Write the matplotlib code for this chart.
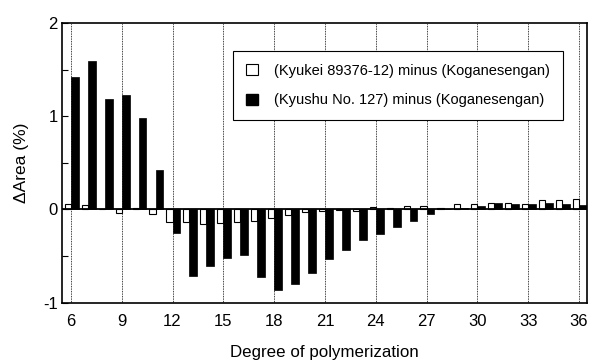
import numpy as np
import matplotlib
matplotlib.use('Agg')
import matplotlib.pyplot as plt
from matplotlib.patches import Patch

plt.rcParams['font.family'] = ['Liberation Sans', 'DejaVu Sans']
plt.rcParams['axes.unicode_minus'] = False

# 数据：聚合度 6..36
dp = np.arange(6, 37)
kyukei = [0.06, 0.05, 0.005, -0.035, 0.02, -0.05, -0.14, -0.14, -0.16, -0.15,
          -0.14, -0.12, -0.09, -0.065, -0.03, -0.02, -0.01, -0.02, 0.03, 0.02,
          0.035, 0.035, 0.02, 0.06, 0.06, 0.065, 0.065, 0.055, 0.10, 0.10, 0.11]
kyushu = [1.42, 1.59, 1.18, 1.23, 0.98, 0.42, -0.25, -0.71, -0.61, -0.52,
          -0.49, -0.73, -0.87, -0.80, -0.68, -0.53, -0.44, -0.33, -0.26, -0.19,
          -0.13, -0.05, 0.005, 0.01, 0.04, 0.07, 0.06, 0.06, 0.07, 0.055, 0.05]
labels = ['(Kyukei 89376-12) minus (Koganesengan)',
          '(Kyushu No. 127) minus (Koganesengan)']
xticks = np.arange(6, 37, 3)

fig = plt.figure(figsize=(5.89, 3.61), dpi=100)
ax = fig.add_axes([0.106, 0.162, 0.89, 0.774])

ax.bar(dp, kyukei, width=-0.36, align='edge', color='white',
       edgecolor='black', linewidth=0.8, zorder=3)
ax.bar(dp, kyushu, width=0.46, align='edge', color='black',
       edgecolor='black', linewidth=0.5, zorder=3)
ax.axhline(0, color='black', linewidth=1.3, zorder=4)

ax.set_xlim(5.5, 36.45)
ax.set_ylim(-1, 2)
ax.set_xticks(xticks)
ax.set_yticks([-1, 0, 1, 2])
ax.set_yticks([-0.5, 0.5, 1.5], minor=True)
ax.tick_params(axis='x', length=0, labelsize=12, pad=8)
ax.tick_params(axis='y', which='both', direction='in', length=4,
               labelsize=12, width=0.8)
ax.grid(axis='x', linestyle=(0, (1, 1)), color='black', linewidth=0.6, zorder=1)
for s in ax.spines.values():
    s.set_linewidth(1.2)

ax.set_xlabel('Degree of polymerization', fontsize=12.2, labelpad=12)
ax.set_ylabel('ΔArea (%)', fontsize=12.5, labelpad=10)

handles = [Patch(facecolor='white', edgecolor='black', linewidth=0.8),
           Patch(facecolor='black', edgecolor='black')]
leg = ax.legend(handles, labels, loc='upper left', bbox_to_anchor=(0.325, 0.901),
                borderaxespad=0, fontsize=10.5, frameon=True, fancybox=False,
                edgecolor='black', framealpha=1, handlelength=0.8,
                handleheight=0.8, handletextpad=1.1, labelspacing=1.05,
                borderpad=0.9)
leg.get_frame().set_linewidth(0.8)
leg.set_zorder(5)

fig.savefig('out.png', dpi=100)
